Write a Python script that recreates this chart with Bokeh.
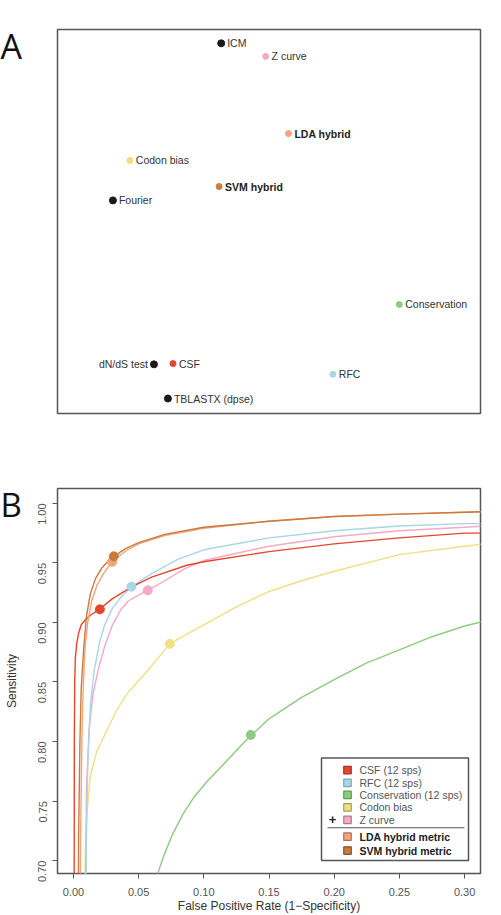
import math
from bokeh.plotting import figure
from bokeh.models import Range1d, FixedTicker, PrintfTickFormatter, Label
from bokeh.layouts import column
from bokeh.core.properties import value
from bokeh.embed import file_html
from bokeh.resources import INLINE

FONT = "Liberation Sans"

# ---------------- Panel A data (2-D embedding of methods) ----------------
a_names = ["ICM", "Z curve", "LDA hybrid", "Codon bias", "SVM hybrid", "Fourier",
           "Conservation", "dN/dS test", "CSF", "RFC", "TBLASTX (dpse)"]
a_x = [0.387, 0.492, 0.546, 0.171, 0.382, 0.131, 0.808, 0.228, 0.273, 0.651, 0.261]
a_y = [0.964, 0.930, 0.729, 0.659, 0.591, 0.555, 0.284, 0.128, 0.130, 0.102, 0.039]
a_colors = ["#1a1a1a", "#F4AAC6", "#F2A47C", "#EDE07E", "#C97E42", "#1a1a1a",
            "#8CCB80", "#1a1a1a", "#E8452E", "#AAD6E0", "#1a1a1a"]
a_bold = [False, False, True, False, True, False, False, False, False, False, False]
a_left = [False, False, False, False, False, False, False, True, False, False, False]

# ---------------- Panel B data (ROC curves) ----------------
series_names = ["CSF (12 sps)", "RFC (12 sps)", "Conservation (12 sps)", "Codon bias",
                "Z curve", "LDA hybrid metric", "SVM hybrid metric"]
series_colors = ["#E8452E", "#A8D6E4", "#8CCB80", "#EDE283", "#F4A9C7", "#F3A47A", "#C97B3E"]
legend_edges = ["#A83020", "#7FA6B0", "#5E9A55", "#A8A050", "#B07A90", "#B07050", "#8A5228"]

csf_fpr = [0.0005, 0.0007, 0.0010, 0.0015, 0.0025, 0.004, 0.006, 0.009, 0.013, 0.020,
           0.030, 0.045, 0.060, 0.087, 0.100, 0.150, 0.200, 0.250, 0.300, 0.315]
csf_sens = [0.60, 0.80, 0.850, 0.870, 0.882, 0.891, 0.898, 0.902, 0.906, 0.911,
            0.920, 0.930, 0.938, 0.948, 0.951, 0.9595, 0.966, 0.971, 0.975, 0.975]

rfc_fpr = [0.0095, 0.010, 0.011, 0.013, 0.016, 0.020, 0.024, 0.030, 0.037, 0.0445,
           0.060, 0.080, 0.100, 0.150, 0.200, 0.250, 0.300, 0.315]
rfc_sens = [0.60, 0.72, 0.78, 0.83, 0.86, 0.883, 0.898, 0.912, 0.922, 0.930,
            0.941, 0.953, 0.961, 0.971, 0.977, 0.981, 0.983, 0.983]

cons_fpr = [0.060, 0.0646, 0.0700, 0.0760, 0.0840, 0.0930, 0.1030, 0.1153, 0.1334, 0.150,
            0.175, 0.200, 0.225, 0.250, 0.275, 0.300, 0.315]
cons_sens = [0.67, 0.689, 0.706, 0.722, 0.739, 0.754, 0.767, 0.781, 0.802, 0.819,
             0.837, 0.852, 0.866, 0.877, 0.888, 0.897, 0.901]

codon_fpr = [0.0085, 0.009, 0.010, 0.0129, 0.018, 0.026, 0.033, 0.0412, 0.0490, 0.0565,
             0.064, 0.074, 0.085, 0.100, 0.125, 0.150, 0.175, 0.200, 0.250, 0.300, 0.315]
codon_sens = [0.60, 0.70, 0.735, 0.771, 0.792, 0.810, 0.826, 0.840, 0.850, 0.859,
              0.869, 0.882, 0.889, 0.898, 0.913, 0.926, 0.935, 0.943, 0.957, 0.964, 0.966]

z_fpr = [0.009, 0.0095, 0.010, 0.012, 0.015, 0.019, 0.024, 0.030, 0.036, 0.042,
         0.050, 0.057, 0.070, 0.085, 0.100, 0.150, 0.200, 0.250, 0.300, 0.315]
z_sens = [0.60, 0.70, 0.76, 0.81, 0.84, 0.860, 0.880, 0.898, 0.910, 0.918,
          0.923, 0.927, 0.935, 0.945, 0.952, 0.964, 0.972, 0.977, 0.980, 0.981]

lda_fpr = [0.005, 0.0055, 0.0065, 0.0075, 0.009, 0.011, 0.014, 0.018, 0.023, 0.027,
           0.0297, 0.040, 0.050, 0.070, 0.100, 0.150, 0.200, 0.250, 0.300, 0.315]
lda_sens = [0.60, 0.72, 0.80, 0.845, 0.88, 0.900, 0.918, 0.931, 0.941, 0.947,
            0.951, 0.960, 0.966, 0.973, 0.979, 0.985, 0.989, 0.991, 0.9925, 0.993]

svm_fpr = [0.0035, 0.004, 0.005, 0.006, 0.008, 0.010, 0.013, 0.017, 0.022, 0.027,
           0.031, 0.040, 0.050, 0.070, 0.100, 0.150, 0.200, 0.250, 0.300, 0.315]
svm_sens = [0.60, 0.72, 0.80, 0.845, 0.88, 0.905, 0.924, 0.937, 0.946, 0.952,
            0.9555, 0.962, 0.967, 0.974, 0.980, 0.985, 0.989, 0.991, 0.9925, 0.993]

# chosen operating points on each curve
pt_fpr = [0.0203, 0.0445, 0.136, 0.074, 0.057, 0.0297, 0.031]
pt_sens = [0.911, 0.930, 0.8055, 0.882, 0.927, 0.951, 0.9555]

x_ticks = [0.00, 0.05, 0.10, 0.15, 0.20, 0.25, 0.30]
y_ticks = [0.70, 0.75, 0.80, 0.85, 0.90, 0.95, 1.00]

LEFT, RIGHT = 57, 21

# ================= Panel A =================
WA, HA = 501, 430
A_TOP, A_BOT = 29, 17
pa = figure(width=WA, height=HA, output_backend="svg", toolbar_location=None,
            x_range=Range1d(0, 1), y_range=Range1d(0, 1),
            x_axis_type=None, y_axis_type=None,
            min_border_left=LEFT, min_border_right=RIGHT,
            min_border_top=A_TOP, min_border_bottom=A_BOT)
pa.grid.visible = False
pa.outline_line_color = "#555555"
pa.outline_line_width = 1.5
pa.background_fill_color = "white"
pa.border_fill_color = "white"

FWA = WA - LEFT - RIGHT
sizes = [7 if c == "#1a1a1a" else 6 for c in a_colors]
pa.scatter(x=a_x, y=a_y, size=sizes, fill_color=a_colors, line_color=a_colors, marker="circle")

for nm, x, y, b, lf in zip(a_names, a_x, a_y, a_bold, a_left):
    dx = (-6 if lf else 6) / FWA
    pa.text(x=[x + dx], y=[y], text=[nm], text_font=value(FONT), text_font_size="10.5px",
            text_color="#222222" if b else "#333333",
            text_font_style="bold" if b else "normal",
            text_align="right" if lf else "left", text_baseline="middle")

pa.add_layout(Label(x=0, y=45, x_units="canvas", y_units="canvas", text="A",
                    text_font="Open Sans", text_font_size="34px", text_color="#111111",
                    text_align="left", text_baseline="middle"), "left")

# ================= Panel B =================
WB, HB = 501, 485
B_TOP, B_BOT = 58, 40
XR0, XR1 = -0.0122, 0.3122
YR0, YR1 = 0.6891, 1.0125

pb = figure(width=WB, height=HB, output_backend="svg", toolbar_location=None,
            x_range=Range1d(XR0, XR1), y_range=Range1d(YR0, YR1),
            min_border_left=LEFT, min_border_right=RIGHT,
            min_border_top=B_TOP, min_border_bottom=B_BOT)
pb.grid.visible = False
pb.outline_line_color = "#555555"
pb.outline_line_width = 1.5
pb.background_fill_color = "white"
pb.border_fill_color = "white"

pb.xaxis.ticker = FixedTicker(ticks=x_ticks)
pb.yaxis.ticker = FixedTicker(ticks=y_ticks)
pb.xaxis.formatter = PrintfTickFormatter(format="%.2f")
pb.yaxis.formatter = PrintfTickFormatter(format="%.2f")
for axis in (pb.xaxis, pb.yaxis):
    axis.axis_line_color = None
    axis.major_tick_line_color = "#555555"
    axis.major_tick_out = 5
    axis.major_tick_in = 0
    axis.minor_tick_line_color = None
    axis.major_label_text_font = FONT
    axis.major_label_text_font_size = "11px"
    axis.major_label_text_color = "#555555"
    axis.axis_label_text_font = FONT
    axis.axis_label_text_font_size = "12px"
    axis.axis_label_text_font_style = "normal"
    axis.axis_label_text_color = "#333333"
pb.yaxis.major_label_orientation = math.pi / 2
pb.xaxis.axis_label = "False Positive Rate (1\u2212Specificity)"
pb.yaxis.axis_label = "Sensitivity"
pb.xaxis.major_label_standoff = 9
pb.xaxis.axis_label_standoff = 0
pb.yaxis.major_label_standoff = 10
pb.yaxis.axis_label_standoff = 13

curves = [(csf_fpr, csf_sens), (rfc_fpr, rfc_sens), (cons_fpr, cons_sens),
          (codon_fpr, codon_sens), (z_fpr, z_sens), (lda_fpr, lda_sens), (svm_fpr, svm_sens)]
draw_order = [2, 3, 4, 1, 0, 5, 6]
for i in draw_order:
    fx, fy = curves[i]
    pb.line(x=fx, y=fy, line_color=series_colors[i], line_width=1.4)
for i in draw_order:
    pb.scatter(x=[pt_fpr[i]], y=[pt_sens[i]], size=9, marker="circle",
               fill_color=series_colors[i], line_color=series_colors[i])

# ---- legend (drawn in plot coordinates from pixel layout) ----
FL, FR = LEFT, WB - RIGHT
FT, FB = B_TOP, HB - B_BOT

def bx(px):
    return XR0 + (px - FL) * (XR1 - XR0) / (FR - FL)

def by(py):
    return YR1 - (py - FT) * (YR1 - YR0) / (FB - FT)

OFF = 430
pb.quad(left=[bx(321)], right=[bx(468)], bottom=[by(862 - OFF)], top=[by(759 - OFF)],
        fill_color="white", line_color="#555555", line_width=1.5)
row_py = [771, 784, 796, 808.5, 821, 838, 852]
row_y = [by(r - OFF) for r in row_py]
pb.scatter(x=[bx(347)] * 7, y=row_y, marker="square", size=7.5,
           fill_color=series_colors, line_color=legend_edges, line_width=1.2)
for i, nm in enumerate(series_names):
    bold = i >= 5
    pb.text(x=[bx(359)], y=[row_y[i]], text=[nm], text_font=value(FONT),
            text_font_size="10.5px", text_color="#222222" if bold else "#555555",
            text_font_style="bold" if bold else "normal",
            text_align="left", text_baseline="middle")
pb.text(x=[bx(332)], y=[row_y[4]], text=["+"], text_font=value(FONT),
        text_font_size="13px", text_font_style="bold", text_color="#222222",
        text_align="center", text_baseline="middle")
pb.segment(x0=[bx(327)], x1=[bx(464)], y0=[by(829 - OFF)], y1=[by(829 - OFF)],
           line_color="#555555", line_width=1.2)

pb.add_layout(Label(x=0, y=73.5, x_units="canvas", y_units="canvas", text="B",
                    text_font="Open Sans", text_font_size="33px", text_color="#111111",
                    text_align="left", text_baseline="middle"), "above")

layout = column(pa, pb, spacing=0)
open("out.html", "w").write(file_html(layout, INLINE))
